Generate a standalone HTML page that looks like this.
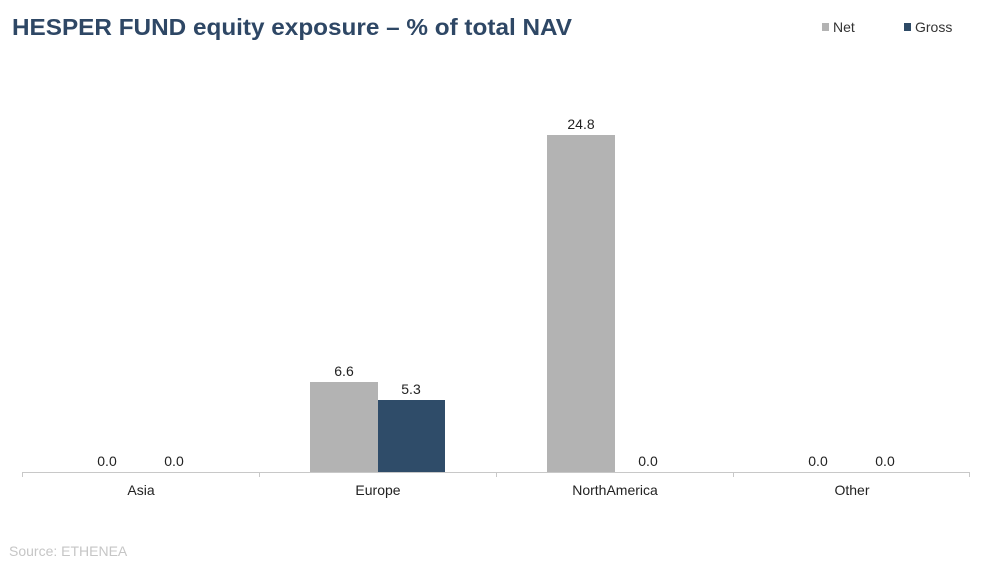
<!DOCTYPE html>
<html><head><style>
body{margin:0;background:#fff;}
svg text{font-family:"Liberation Sans",Arial,sans-serif;}
</style></head><body>
<svg width="1000" height="569" xmlns="http://www.w3.org/2000/svg">
<text x="12" y="35" font-size="23" font-weight="bold" fill="#2e4765" textLength="560" lengthAdjust="spacingAndGlyphs">HESPER FUND equity exposure – % of total NAV</text>
<rect x="822" y="23" width="7" height="8" fill="#b3b3b3"/>
<text x="833" y="32" font-size="14" fill="#333">Net</text>
<rect x="904" y="23" width="7" height="8" fill="#2e4a66"/>
<text x="915" y="32" font-size="14" fill="#333">Gross</text>
<rect x="310" y="382" width="68" height="90" fill="#b3b3b3"/>
<rect x="378" y="400" width="67" height="72" fill="#2f4c69"/>
<rect x="547" y="135" width="68" height="337" fill="#b3b3b3"/>
<g stroke="#c8c8c8" stroke-width="1">
<line x1="22" y1="472.5" x2="970" y2="472.5"/>
<line x1="22.5" y1="472" x2="22.5" y2="477"/>
<line x1="259.5" y1="472" x2="259.5" y2="477"/>
<line x1="496.5" y1="472" x2="496.5" y2="477"/>
<line x1="733.5" y1="472" x2="733.5" y2="477"/>
<line x1="969.5" y1="472" x2="969.5" y2="477"/>
</g>
<g font-size="14" fill="#222" text-anchor="middle">
<text x="107" y="466">0.0</text>
<text x="174" y="466">0.0</text>
<text x="344" y="376">6.6</text>
<text x="411" y="394">5.3</text>
<text x="581" y="129">24.8</text>
<text x="648" y="466">0.0</text>
<text x="818" y="466">0.0</text>
<text x="885" y="466">0.0</text>
<text x="141" y="495">Asia</text>
<text x="378" y="495">Europe</text>
<text x="615" y="495">NorthAmerica</text>
<text x="852" y="495">Other</text>
</g>
<text x="9" y="556" font-size="14" fill="#c6c6c6">Source: ETHENEA</text>
</svg>
</body></html>
